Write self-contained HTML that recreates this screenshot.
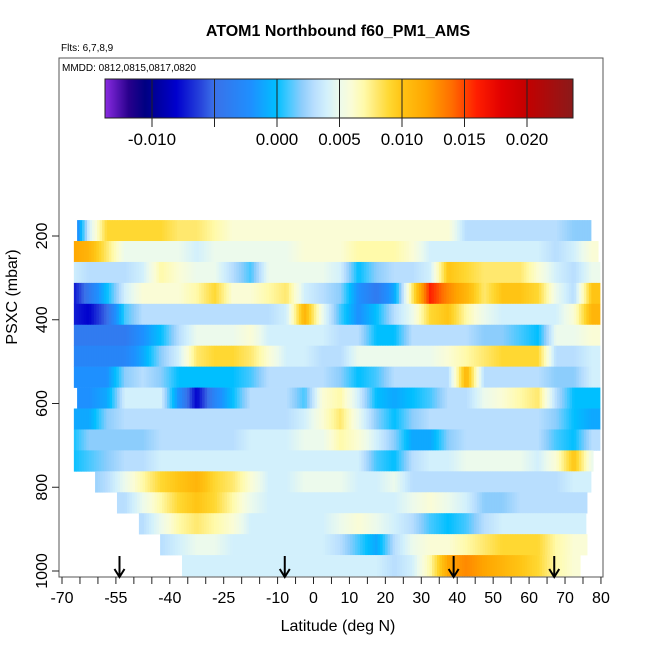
<!DOCTYPE html>
<html><head><meta charset="utf-8">
<style>
html,body{margin:0;padding:0;background:#fff;}
svg{display:block;font-family:"Liberation Sans",Arial,sans-serif;}
</style></head>
<body>
<svg id="chart" width="650" height="650" viewBox="0 0 650 650" xmlns="http://www.w3.org/2000/svg">
  <rect x="0" y="0" width="650" height="650" fill="#fff"/>
  <text x="338" y="36" text-anchor="middle" font-size="16" font-weight="bold">ATOM1 Northbound f60_PM1_AMS</text>
  <text x="61" y="51" font-size="10">Flts: 6,7,8,9</text>
  <g id="heat"></g>
  <rect x="59" y="58" width="544" height="519" fill="none" stroke="#555" stroke-width="1"/>
  <text x="62" y="71" font-size="10">MMDD: 0812,0815,0817,0820</text>
  <g id="cbar"></g>
  <g id="xaxis"></g>
  <g id="yaxis"></g>
  <g id="arrows"></g>
  <text x="338" y="631" text-anchor="middle" font-size="16">Latitude (deg N)</text>
  <text transform="translate(17,297) rotate(-90)" text-anchor="middle" font-size="16">PSXC (mbar)</text>
</svg>
<script>
// ---- data ----
const binStartLat = -70;
const binWidth = 5;
const rowPressure = [187,237,287,337,387,437,487,537,587,637,687,737,787,837,887,937,987];
const rowLatStart = [-65.8,-66.7,-66.7,-66.7,-66.7,-66.7,-66.7,-66.7,-65.8,-66.7,-66.7,-66.7,-60.8,-54.7,-48.6,-42.7,-36.6];
const rowLatEnd = [77.2,79.2,79.7,79.7,79.7,79.7,79.7,79.7,79.7,79.7,79.7,77.8,77.2,76.1,75.8,76.1,74.2];
const row0 = [-0.006,0.004,0.009,0.009,0.009,0.009,0.008,0.008,0.007,0.006,0.006,0.006,0.006,0.006,0.006,0.006,0.006,0.006,0.006,0.006,0.006,0.006,0.003,0.003,0.003,0.003,0.003,0.003,0.002,0.002];
const row1 = [0.012,0.011,0.008,0.005,0.005,0.005,0.005,0.004,0.005,0.005,0.005,0.005,0.005,0.006,0.006,0.006,0.007,0.007,0.007,0.006,0.004,0.004,0.004,0.004,0.004,0.004,0.004,0.003,0.004,0.006];
const row2 = [0.004,0.003,0.003,0.003,0.004,0.007,0.006,0.005,0.005,0.003,0.001,0.005,0.005,0.005,0.005,0.004,0.0,0.002,0.003,0.003,0.004,0.010,0.009,0.008,0.008,0.008,0.006,0.004,0.003,0.005];
const row3 = [-0.008,-0.004,0.0,0.004,0.006,0.006,0.006,0.007,0.009,0.006,0.006,0.007,0.008,0.004,0.003,0.002,-0.002,-0.004,-0.001,0.008,0.016,0.013,0.011,0.008,0.010,0.010,0.009,0.005,0.003,0.010];
const row4 = [-0.007,-0.008,-0.005,0.001,0.003,0.003,0.003,0.003,0.003,0.003,0.003,0.003,0.004,0.011,0.005,0.001,-0.002,0.0,0.003,0.005,0.009,0.010,0.007,0.005,0.004,0.004,0.004,0.004,0.006,0.011];
const row5 = [-0.004,-0.004,-0.004,-0.004,-0.002,0.0,0.003,0.005,0.005,0.005,0.006,0.004,0.004,0.004,0.004,0.003,0.003,0.0,0.0,0.003,0.003,0.003,0.003,0.002,0.002,0.001,0.0,0.005,0.005,0.006];
const row6 = [-0.003,-0.003,-0.003,-0.003,-0.001,0.002,0.004,0.008,0.009,0.009,0.008,0.006,0.004,0.004,0.003,0.003,0.005,0.005,0.005,0.005,0.005,0.006,0.007,0.008,0.009,0.009,0.009,0.003,0.003,0.004];
const row7 = [-0.002,-0.002,-0.002,0.002,0.003,0.002,0.0,0.0,0.0,0.0,0.001,0.003,0.003,0.003,0.003,0.002,0.0,0.001,0.003,0.003,0.003,0.003,0.011,0.003,0.003,0.003,0.003,0.002,0.002,0.004];
const row8 = [-0.002,-0.002,-0.001,0.004,0.004,0.004,-0.002,-0.008,-0.003,0.0,0.003,0.003,0.003,0.001,0.006,0.007,0.004,0.0,-0.001,0.0,0.001,0.003,0.003,0.005,0.006,0.007,0.008,0.003,0.0,0.0];
const row9 = [-0.001,-0.001,0.002,0.003,0.003,0.003,0.003,0.003,0.003,0.003,0.003,0.003,0.003,0.004,0.006,0.008,0.005,0.002,0.0,0.002,0.003,0.003,0.003,0.003,0.003,0.003,0.003,0.002,0.0,-0.001];
const row10 = [0.0,0.002,0.002,0.002,0.002,0.003,0.003,0.003,0.003,0.003,0.004,0.004,0.004,0.005,0.005,0.007,0.006,0.004,0.002,-0.001,-0.001,0.002,0.003,0.003,0.003,0.003,0.003,0.001,0.0,0.003];
const row11 = [0.0,0.001,0.002,0.003,0.003,0.004,0.004,0.004,0.004,0.004,0.004,0.004,0.004,0.004,0.004,0.004,0.004,0.001,0.0,0.003,0.004,0.004,0.005,0.005,0.005,0.005,0.004,0.006,0.010,0.005];
const row12 = [null,0.002,0.003,0.005,0.007,0.009,0.010,0.011,0.009,0.008,0.006,0.004,0.004,0.005,0.005,0.005,0.004,0.004,0.005,0.003,0.003,0.003,0.003,0.003,0.003,0.003,0.003,0.003,0.004,null];
const row13 = [null,null,null,0.003,0.005,0.007,0.009,0.010,0.009,0.007,0.005,0.004,0.004,0.004,0.004,0.004,0.004,0.004,0.004,0.005,0.006,0.005,0.004,0.002,0.002,0.003,0.003,0.003,0.003,null];
const row14 = [null,null,null,null,0.003,0.005,0.007,0.008,0.007,0.006,0.004,0.004,0.004,0.004,0.004,0.005,0.006,0.005,0.004,0.003,0.001,0.0,0.001,0.003,0.004,0.004,0.004,0.004,0.004,null];
const row15 = [null,null,null,null,null,0.003,0.004,0.005,0.005,0.004,0.004,0.004,0.004,0.004,0.004,0.003,0.001,-0.001,0.003,0.005,0.006,0.006,0.007,0.008,0.009,0.009,0.009,0.007,0.006,null];
const row16 = [null,null,null,null,null,null,0.004,0.004,0.004,0.004,0.004,0.004,0.004,0.004,0.004,0.004,0.004,0.004,0.003,0.004,0.007,0.012,0.013,0.012,0.011,0.010,0.009,0.007,0.006,null];
const rowValues = [row0,row1,row2,row3,row4,row5,row6,row7,row8,row9,row10,row11,row12,row13,row14,row15,row16];
const arrowLats = [-54,-8,39,67];
const xTicks = [-70,-65,-60,-55,-50,-45,-40,-35,-30,-25,-20,-15,-10,-5,0,5,10,15,20,25,30,35,40,45,50,55,60,65,70,75,80];
const xTickLabels = [-70,-55,-40,-25,-10,0,10,20,30,40,50,60,70,80];
const yTickLabels = [200,400,600,800,1000];
const cbarTicks = [-0.010,-0.005,0.000,0.005,0.010,0.015,0.020];
const cbarLabels = ["-0.010","","0.000","0.005","0.010","0.015","0.020"];
const cbarMin = -0.0137, cbarMax = 0.0237;

// ---- scales ----
const NS = "http://www.w3.org/2000/svg";
function xScale(lat){ return 62 + (lat + 70) * 3.593; }
function yScale(p){ return 236 + (p - 200) * 0.41875; }
function cScale(v){ return 277 + v * 12500; }
const stops = [
 [-0.0137,[138,43,226]],[-0.0118,[40,0,140]],[-0.0105,[0,0,130]],[-0.008,[0,0,205]],
 [-0.006,[40,70,220]],[-0.005,[58,112,232]],[-0.002,[30,144,255]],[0.0,[0,191,255]],
 [0.001,[70,200,255]],[0.002,[140,205,252]],[0.003,[184,222,254]],[0.004,[210,240,252]],
 [0.005,[236,250,236]],[0.006,[250,252,214]],[0.007,[255,250,170]],[0.008,[255,232,110]],
 [0.009,[255,216,50]],[0.010,[255,196,20]],[0.012,[255,165,0]],[0.014,[255,110,0]],
 [0.016,[255,30,0]],[0.018,[225,0,0]],[0.020,[195,0,0]],[0.0237,[139,26,26]]];
function color(v){
  if(v<=stops[0][0]) return "rgb("+stops[0][1].join(",")+")";
  for(let i=1;i<stops.length;i++){
    if(v<=stops[i][0]){
      const a=stops[i-1],b=stops[i],t=(v-a[0])/(b[0]-a[0]);
      const c=a[1].map((x,j)=>Math.round(x+(b[1][j]-x)*t));
      return "rgb("+c.join(",")+")";
    }
  }
  return "rgb("+stops[stops.length-1][1].join(",")+")";
}
function mk(tag,attrs,parent){
  const e=document.createElementNS(NS,tag);
  for(const k in attrs) e.setAttribute(k,attrs[k]);
  parent.appendChild(e); return e;
}
// value at a latitude for display shading (blend between neighbouring bin centres)
function shadeAt(vals,lat){
  const f=(lat-binStartLat)/binWidth-0.5;
  let k0=Math.floor(f), k1=k0+1, t=f-k0;
  const a=(k0>=0&&k0<vals.length)?vals[k0]:null;
  const b=(k1>=0&&k1<vals.length)?vals[k1]:null;
  if(a===null&&b===null) return null;
  if(a===null) return b;
  if(b===null) return a;
  return a+(b-a)*t;
}

// ---- heatmap ----
const heat=document.getElementById("heat");
const step=2.5/3.593; // ~2.5 px in latitude
rowValues.forEach((vals,r)=>{
  const yTop=yScale(rowPressure[r]-25), yBot=yScale(rowPressure[r]+25);
  const g=mk("g",{},heat);
  
  
  for(let lat=rowLatStart[r];lat<rowLatEnd[r];lat+=step){
    const l1=Math.min(lat+step,rowLatEnd[r]);
    const v=shadeAt(vals,(lat+l1)/2);
    if(v===null) continue;
    const x0=xScale(lat), x1=xScale(l1);
    const el=mk("rect",{x:x0.toFixed(2),y:yTop.toFixed(2),width:(x1-x0+0.5).toFixed(2),height:(yBot-yTop+0.3).toFixed(2),fill:color(v)},g);
    
    
  }
});

// ---- colorbar ----
const cb=document.getElementById("cbar");
for(let x=105;x<573;x++){
  const v=cbarMin+(x+0.5-105)/(573-105)*(cbarMax-cbarMin);
  const el=mk("rect",{x:x,y:79,width:1.2,height:39,fill:color(v)},cb);
  
  
}
const cbBorder=mk("rect",{x:105,y:79,width:468,height:39,fill:"none",stroke:"#222","stroke-width":1},cb);


cbarTicks.forEach((t,i)=>{
  const x=cScale(t);
  const ln=mk("line",{x1:x,x2:x,y1:79,y2:127,stroke:"#222","stroke-width":1},cb);
  
  
  if(cbarLabels[i]){
    const tx=mk("text",{x:x,y:145,"text-anchor":"middle","font-size":"17"},cb);
    tx.textContent=cbarLabels[i];
    
    
  }
});

// ---- x axis ----
const xa=document.getElementById("xaxis");
xTicks.forEach(t=>{
  const x=xScale(t);
  const ln=mk("line",{x1:x,x2:x,y1:577,y2:584,stroke:"#222","stroke-width":1},xa);
  
  
});
xTickLabels.forEach(t=>{
  const tx=mk("text",{x:xScale(t),y:603,"text-anchor":"middle","font-size":"16"},xa);
  tx.textContent=String(t);
  
  
});

// ---- y axis ----
const ya=document.getElementById("yaxis");
yTickLabels.forEach(t=>{
  const y=yScale(t);
  const ln=mk("line",{x1:52,x2:59,y1:y,y2:y,stroke:"#222","stroke-width":1},ya);
  
  
  const tx=mk("text",{transform:"translate(47,"+y+") rotate(-90)","text-anchor":"middle","font-size":"16"},ya);
  tx.textContent=String(t);
  
  
});

// ---- arrows ----
const ar=document.getElementById("arrows");
arrowLats.forEach(l=>{
  const x=xScale(l);
  const g=mk("g",{},ar);
  
  
  mk("line",{x1:x,x2:x,y1:556,y2:576,stroke:"#000","stroke-width":2},g);
  mk("polyline",{points:(x-5)+",569 "+x+",577 "+(x+5)+",569",fill:"none",stroke:"#000","stroke-width":2},g);
});
</script>
</body></html>
